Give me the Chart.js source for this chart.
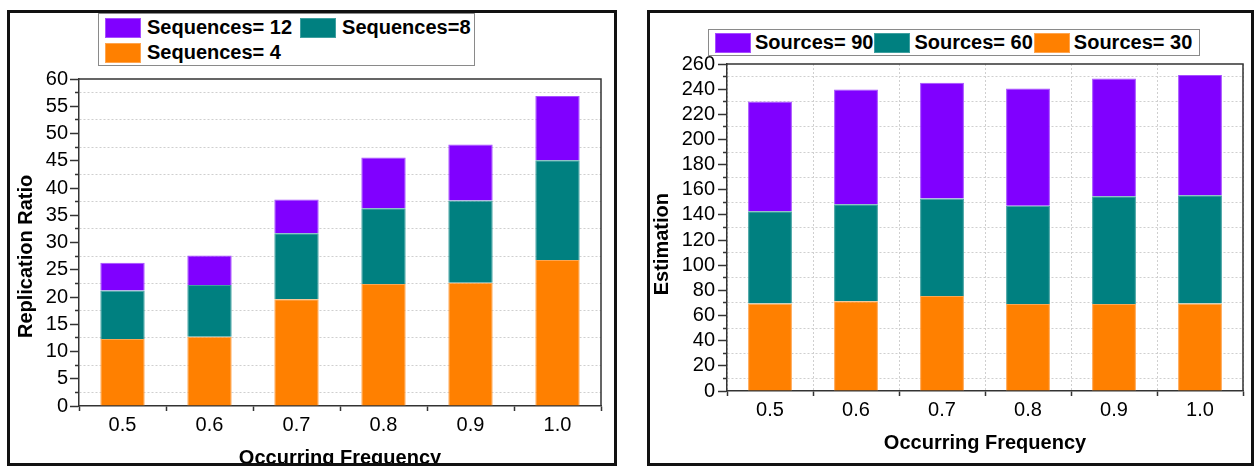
<!DOCTYPE html>
<html>
<head>
<meta charset="utf-8">
<script src="https://cdn.jsdelivr.net/npm/chart.js@4.4.1/dist/chart.umd.min.js"></script>
<style>
  html, body { margin: 0; padding: 0; background: #fff; }
  body { width: 1254px; height: 466px; overflow: hidden; position: relative;
         font-family: "Liberation Sans", Arial, sans-serif; }
  canvas { position: absolute; top: 0; }
  .panel { position: absolute; top: 10px; height: 456px; box-sizing: border-box;
           border: 3px solid #111; pointer-events: none; z-index: 3; }
  .legend { position: absolute; z-index: 4; background: #fff; box-sizing: border-box;
            border: 1px solid #8a8a8a; display: flex; flex-direction: column; }
  .row { display: flex; align-items: center; height: 25px; }
  .item { display: flex; align-items: center; font-weight: bold; font-size: 20px;
          color: #000; white-space: nowrap; }
  .sw { display: inline-block; width: 36px; height: 20px; box-sizing: border-box; border: 1px solid; }
</style>
</head>
<body>
<canvas id="ratioChart" width="620" height="520" style="left:0"></canvas>
<canvas id="estimationChart" width="606" height="520" style="left:648px"></canvas>
<div class="panel" style="left:7px;width:610px"></div>
<div class="panel" style="left:647px;width:607px"></div>
<div id="ratioLegend" class="legend" style="left:98px;top:13px;width:377px;height:53px;padding:1px 0 0 6px"></div>
<div id="estimationLegend" class="legend" style="left:708px;top:29px;width:492px;height:27px;padding:0 0 0 6px"></div>

<script>
// Category ticks shared by both panels
const frequencies = ['0.5', '0.6', '0.7', '0.8', '0.9', '1.0'];

// Left panel: replication ratio, stacked from the bottom up
const sequenceLabels = ['Sequences= 4', 'Sequences=8', 'Sequences= 12'];
const sequences4  = [12.3, 12.7, 19.6, 22.4, 22.6, 26.8];
const sequences8  = [8.9, 9.5, 12.1, 13.9, 15.1, 18.3];
const sequences12 = [5.1, 5.4, 6.2, 9.3, 10.3, 11.8];

// Right panel: estimation, stacked from the bottom up
const sourceLabels = ['Sources= 30', 'Sources= 60', 'Sources= 90'];
const sources30 = [69.5, 71.3, 75.5, 69.2, 69.2, 69.5];
const sources60 = [73.4, 77.2, 77.5, 78.0, 85.7, 86.2];
const sources90 = [87.3, 91.2, 92.1, 93.3, 93.6, 95.5];

const ORANGE = '#ff8000', TEAL = '#008080', PURPLE = '#8000ff';
const ORANGE_EDGE = '#ffa54f', TEAL_EDGE = '#3f9f9f', PURPLE_EDGE = '#a64dff';
const AXIS = '#333';
const GRID = '#cfcfcf';
const TICK_FONT = { size: 20 };

Chart.defaults.font.family = '"Liberation Sans", Arial, sans-serif';
Chart.defaults.color = '#000';

// Top and right edges of the plot box
const plotFrame = {
  id: 'plotFrame',
  afterDraw(chart) {
    const { ctx, chartArea: { left, top, right, bottom } } = chart;
    ctx.save();
    ctx.strokeStyle = AXIS;
    ctx.lineWidth = 1.5;
    ctx.beginPath();
    ctx.moveTo(left, top);
    ctx.lineTo(right, top);
    ctx.lineTo(right, bottom);
    ctx.stroke();
    ctx.restore();
  }
};

function buildChart(id, cfg) {
  const isMinor = v => Math.abs(v / cfg.major - Math.round(v / cfg.major)) > 1e-6;
  const minorCtx = c => c.tick && isMinor(c.tick.value);
  return new Chart(document.getElementById(id), {
    type: 'bar',
    data: {
      labels: frequencies,
      datasets: cfg.series.map(s => ({
        label: s.label,
        data: s.data,
        backgroundColor: s.color,
        borderColor: s.edge,
        borderWidth: 1,
        categoryPercentage: 1,
        barPercentage: 0.51
      }))
    },
    options: {
      responsive: false,
      animation: false,
      devicePixelRatio: 1,
      layout: { padding: { left: 0, top: cfg.top, right: cfg.right, bottom: cfg.bottom } },
      plugins: { legend: { display: false }, tooltip: { enabled: false } },
      scales: {
        x: {
          stacked: true,
          offset: true,
          afterFit: s => { s.height = 70; },
          grid: {
            offset: true,
            drawOnChartArea: cfg.verticalGrid,
            color: GRID,
            lineWidth: 1,
            tickLength: 5,
            tickColor: AXIS,
            tickWidth: 1.5
          },
          border: { display: true, color: AXIS, width: 1.5, dash: [2, 2] },
          ticks: { font: TICK_FONT, color: '#000', padding: 2, maxRotation: 0 },
          title: {
            display: true,
            text: 'Occurring Frequency',
            font: { size: 20, weight: 'bold' },
            color: '#000',
            padding: { top: 0, bottom: 6 }
          }
        },
        y: {
          stacked: true,
          min: 0,
          max: cfg.yMax,
          afterFit: s => { s.width = 79; },
          ticks: {
            stepSize: cfg.minor,
            autoSkip: false,
            font: TICK_FONT,
            color: '#000',
            padding: cfg.tickPad,
            callback: v => (isMinor(v) ? '' : String(v))
          },
          grid: {
            drawOnChartArea: true,
            color: c => (minorCtx(c) ? GRID : 'rgba(0,0,0,0)'),
            lineWidth: 1,
            tickLength: 9,
            tickColor: AXIS,
            tickWidth: 1.5,
            tickBorderDash: c => (minorCtx(c) ? [0, 5, 20] : [])
          },
          border: { display: true, color: AXIS, width: 1.5, dash: [2, 2] },
          title: {
            display: true,
            text: cfg.yTitle,
            font: { size: 20, weight: 'bold' },
            color: '#000',
            padding: { top: cfg.titlePad, bottom: 0 }
          }
        }
      }
    },
    plugins: [plotFrame]
  });
}

buildChart('ratioChart', {
  series: [
    { label: sequenceLabels[0], data: sequences4, color: ORANGE, edge: ORANGE_EDGE },
    { label: sequenceLabels[1], data: sequences8, color: TEAL, edge: TEAL_EDGE },
    { label: sequenceLabels[2], data: sequences12, color: PURPLE, edge: PURPLE_EDGE }
  ],
  yMax: 60, major: 5, minor: 2.5,
  yTitle: 'Replication Ratio     ',
  top: 79, right: 19, bottom: 44,
  titlePad: 14, tickPad: 2,
  verticalGrid: false
});

buildChart('estimationChart', {
  series: [
    { label: sourceLabels[0], data: sources30, color: ORANGE, edge: ORANGE_EDGE },
    { label: sourceLabels[1], data: sources60, color: TEAL, edge: TEAL_EDGE },
    { label: sourceLabels[2], data: sources90, color: PURPLE, edge: PURPLE_EDGE }
  ],
  yMax: 260, major: 20, minor: 10,
  yTitle: 'Estimation      ',
  top: 64, right: 11, bottom: 59,
  titlePad: 2.5, tickPad: 3,
  verticalGrid: true
});

// Legends, listed top series first
function buildLegend(id, rows, swatchGap, itemGap) {
  const box = document.getElementById(id);
  rows.forEach(entries => {
    const row = document.createElement('div');
    row.className = 'row';
    entries.forEach((e, i) => {
      const item = document.createElement('div');
      item.className = 'item';
      if (i < entries.length - 1) item.style.marginRight = itemGap + 'px';
      const sw = document.createElement('span');
      sw.className = 'sw';
      sw.style.background = e.color;
      sw.style.borderColor = e.edge;
      sw.style.marginRight = swatchGap + 'px';
      const tx = document.createElement('span');
      tx.textContent = e.label;
      item.append(sw, tx);
      row.append(item);
    });
    box.append(row);
  });
}

buildLegend('ratioLegend', [
  [ { label: sequenceLabels[2], color: PURPLE, edge: PURPLE_EDGE },
    { label: sequenceLabels[1], color: TEAL, edge: TEAL_EDGE } ],
  [ { label: sequenceLabels[0], color: ORANGE, edge: ORANGE_EDGE } ]
], 6, 8);

buildLegend('estimationLegend', [
  [ { label: sourceLabels[2], color: PURPLE, edge: PURPLE_EDGE },
    { label: sourceLabels[1], color: TEAL, edge: TEAL_EDGE },
    { label: sourceLabels[0], color: ORANGE, edge: ORANGE_EDGE } ]
], 4, 1);
</script>
</body>
</html>
